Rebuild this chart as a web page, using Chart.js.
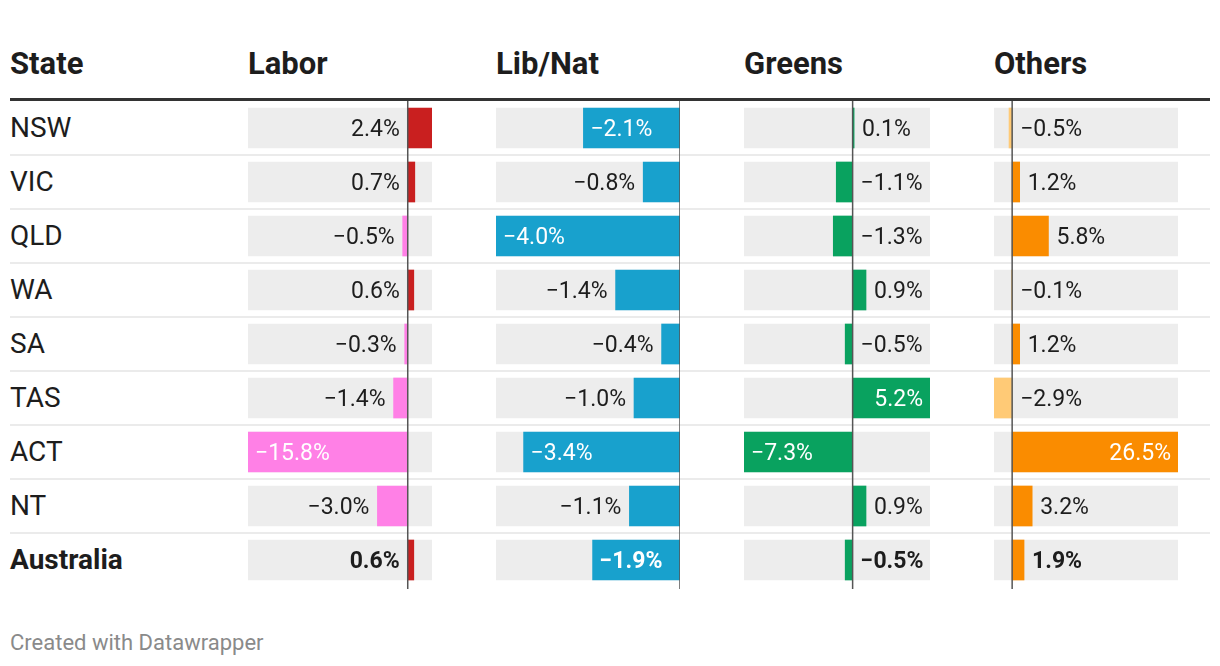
<!DOCTYPE html>
<html>
<head>
<meta charset="utf-8">
<script src="https://cdn.jsdelivr.net/npm/chart.js@4"></script>
<style>
  html, body { margin:0; padding:0; background:#fff; }
  body { width:1220px; height:666px; position:relative; overflow:hidden; font-family: Roboto, "Noto Sans", sans-serif; color:#1d1d1d; }
  .abs { position:absolute; white-space:nowrap; line-height:1; }
  .hdr { font-weight:700; font-size:31px; }
  .name { font-size:28px; }
  .rule { position:absolute; left:10px; width:1200px; }
  canvas { position:absolute; }
  .foot { font-size:22px; color:#8a8a8a; }
</style>
</head>
<body>
<script>
// ---- data ----
const states  = ['NSW','VIC','QLD','WA','SA','TAS','ACT','NT','Australia'];
const columns = ['Labor','Lib/Nat','Greens','Others'];
const labor   = [2.4, 0.7, -0.5, 0.6, -0.3, -1.4, -15.8, -3.0, 0.6];
const libnat  = [-2.1, -0.8, -4.0, -1.4, -0.4, -1.0, -3.4, -1.1, -1.9];
const greens  = [0.1, -1.1, -1.3, 0.9, -0.5, 5.2, -7.3, 0.9, -0.5];
const others  = [-0.5, 1.2, 5.8, -0.1, 1.2, -2.9, 26.5, 3.2, 1.9];
const seriesValues = [labor, libnat, greens, others];

// ---- styles ----
const colLeft   = [248, 496, 744, 994];
const colWidth  = [184, 184, 186, 184];
const posColor  = ['#c91f1f', '#18a1cd', '#09a25f', '#fa8c00'];
const negColor  = ['#ff80e6', '#18a1cd', '#09a25f', '#ffca76'];
const labelSide = ['left', 'left', 'right', 'right'];
const ROW_TOP = 101, ROW_H = 54, CANVAS_TOP = 99;
const HDR_FS = 31, NAME_FS = 28, VAL_FS = 23;

const body = document.body;
function addDiv(cls, text, css) {
  const d = document.createElement('div');
  d.className = cls; if (text !== null) d.textContent = text;
  Object.assign(d.style, css); body.appendChild(d); return d;
}
// header texts (baseline ~74.5)
const hdrTop = (74.5 - 0.842*HDR_FS) + 'px';
addDiv('abs hdr', 'State', { left:'10px', top:hdrTop });
columns.forEach((c, j) => addDiv('abs hdr', c, { left: colLeft[j]+'px', top:hdrTop }));
// header rule
addDiv('rule', null, { top:'98px', height:'3px', background:'#333' });
// row separators and names
states.forEach((s, i) => {
  const cy = ROW_TOP + ROW_H*i + ROW_H/2;
  const base = cy + 0.711*NAME_FS/2 - 0.3;
  const d = addDiv('abs name', s, { left:'10px', top:(base - 0.842*NAME_FS)+'px' });
  if (i === states.length - 1) d.style.fontWeight = '700';
  if (i < states.length - 1) addDiv('rule', null, { top:(ROW_TOP + ROW_H*(i+1) - 1.5)+'px', height:'2px', background:'#ebebeb' });
});
// footer
addDiv('abs foot', 'Created with Datawrapper', { left:'10px', top:(650.5 - 0.842*22)+'px' });

function fmt(v) { return (v < 0 ? '\u2212' : '') + Math.abs(v).toFixed(1) + '%'; }

const overlay = {
  id: 'overlay',
  afterDatasetsDraw(chart, args, opts) {
    const ctx = chart.ctx, xs = chart.scales.x, ys = chart.scales.y;
    const xz = xs.getPixelForValue(0);
    // zero line
    ctx.save();
    ctx.strokeStyle = '#555'; ctx.lineWidth = 1.5;
    ctx.beginPath(); ctx.moveTo(xz, 2); ctx.lineTo(xz, chart.height - 1); ctx.stroke();
    // labels
    const vals = opts.values, pad = 8;
    vals.forEach((v, i) => {
      const bold = i === vals.length - 1;
      ctx.font = (bold ? '700 ' : '') + VAL_FS + 'px Roboto';
      const t = fmt(v), tw = ctx.measureText(t).width;
      const xe = xs.getPixelForValue(v), cy = ys.getPixelForValue(i);
      const base = cy + 0.711*VAL_FS/2;
      const bw = Math.abs(xe - xz);
      let x, align, color = '#1d1d1d';
      if (bw >= tw + 2*pad) {
        color = '#fff';
        if (v < 0) { x = xe + pad - 1; align = 'left'; } else { x = xe - pad + 1; align = 'right'; }
      } else if (opts.side === 'left') {
        align = 'right'; x = (v < 0 ? xe : xz) - pad;
      } else {
        align = 'left'; x = (v > 0 ? xe : xz) + pad;
      }
      ctx.fillStyle = color; ctx.textAlign = align; ctx.textBaseline = 'alphabetic';
      ctx.fillText(t, x, base);
    });
    ctx.restore();
  }
};

seriesValues.forEach((vals, j) => {
  const cv = document.createElement('canvas');
  cv.width = colWidth[j]; cv.height = 491;
  cv.style.left = colLeft[j] + 'px'; cv.style.top = CANVAS_TOP + 'px';
  cv.style.width = colWidth[j] + 'px'; cv.style.height = '491px';
  body.appendChild(cv);
  const mn = Math.min(0, ...vals), mx = Math.max(0, ...vals);
  new Chart(cv, {
    type: 'bar',
    data: {
      labels: states,
      datasets: [
        { data: vals, backgroundColor: vals.map(v => v < 0 ? negColor[j] : posColor[j]),
          grouped: false, barThickness: 40, borderWidth: 0, order: 1 },
        { data: states.map(() => [mn, mx]), backgroundColor: '#ededed',
          grouped: false, barThickness: 40, borderWidth: 0, order: 2 }
      ]
    },
    options: {
      indexAxis: 'y', responsive: false, maintainAspectRatio: false, animation: false,
      devicePixelRatio: 1, events: [],
      layout: { padding: { top: 2, bottom: 3, left: 0, right: 0 } },
      scales: {
        x: { type: 'linear', min: mn, max: mx, display: false },
        y: { display: false }
      },
      plugins: { legend: { display: false }, tooltip: { enabled: false },
                 overlay: { values: vals, side: labelSide[j] } }
    },
    plugins: [overlay]
  });
});
</script>
</body>
</html>
